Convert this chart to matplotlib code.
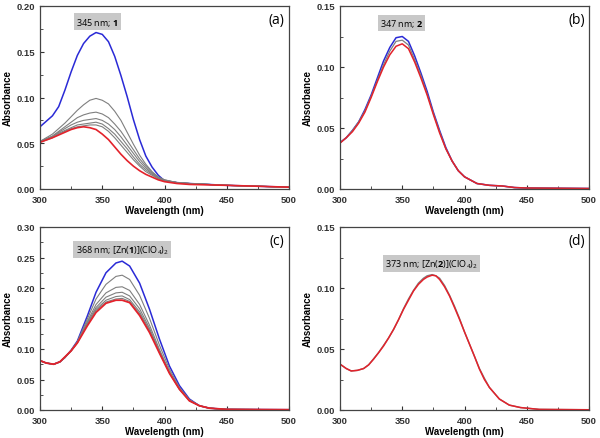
import matplotlib.pyplot as plt
from matplotlib.ticker import MultipleLocator

plt.rcParams['font.family'] = ['Liberation Sans', 'DejaVu Sans']
plt.rcParams['mathtext.fontset'] = 'custom'
plt.rcParams['mathtext.rm'] = 'Open Sans'
plt.rcParams['mathtext.bf'] = 'Open Sans:bold'

# ---- panel (a): ligand 1 ----
wl_a = [300, 310, 315, 320, 325, 330, 335, 340, 345, 350, 355, 360, 365, 370, 375, 380, 385, 390, 395, 400, 410, 420, 450, 500]
a_blue = [0.068, 0.080, 0.090, 0.108, 0.128, 0.146, 0.159, 0.167, 0.171, 0.169, 0.161, 0.145, 0.124, 0.101, 0.076, 0.054, 0.036, 0.024, 0.015, 0.009, 0.007, 0.006, 0.004, 0.002]
a_gray = [
    [0.052, 0.060, 0.066, 0.072, 0.079, 0.086, 0.092, 0.097, 0.099, 0.097, 0.093, 0.085, 0.075, 0.062, 0.049, 0.037, 0.027, 0.019, 0.013, 0.010, 0.007, 0.006, 0.004, 0.002],
    [0.052, 0.058, 0.063, 0.068, 0.073, 0.078, 0.081, 0.083, 0.084, 0.082, 0.078, 0.071, 0.063, 0.053, 0.043, 0.033, 0.025, 0.018, 0.013, 0.010, 0.007, 0.006, 0.004, 0.002],
    [0.052, 0.057, 0.062, 0.066, 0.070, 0.073, 0.075, 0.076, 0.077, 0.075, 0.071, 0.065, 0.057, 0.048, 0.039, 0.030, 0.023, 0.017, 0.012, 0.009, 0.007, 0.006, 0.004, 0.002],
    [0.052, 0.057, 0.061, 0.064, 0.067, 0.070, 0.071, 0.072, 0.073, 0.071, 0.066, 0.060, 0.052, 0.044, 0.035, 0.027, 0.021, 0.016, 0.012, 0.009, 0.007, 0.006, 0.004, 0.002],
    [0.051, 0.056, 0.060, 0.063, 0.066, 0.068, 0.069, 0.070, 0.070, 0.068, 0.063, 0.056, 0.048, 0.040, 0.032, 0.025, 0.019, 0.015, 0.011, 0.009, 0.007, 0.006, 0.004, 0.002],
]
a_red = [0.051, 0.056, 0.059, 0.062, 0.065, 0.067, 0.068, 0.067, 0.065, 0.060, 0.054, 0.046, 0.038, 0.031, 0.025, 0.020, 0.016, 0.013, 0.010, 0.008, 0.006, 0.005, 0.004, 0.002]

# ---- panel (b): ligand 2 ----
wl_b = [300, 305, 310, 315, 320, 325, 330, 335, 340, 345, 350, 355, 360, 365, 370, 375, 380, 385, 390, 395, 400, 410, 420, 430, 440, 450, 500]
b_blue = [0.038, 0.042, 0.048, 0.055, 0.065, 0.077, 0.091, 0.105, 0.116, 0.124, 0.125, 0.121, 0.109, 0.095, 0.080, 0.063, 0.048, 0.034, 0.023, 0.015, 0.010, 0.0045, 0.003, 0.0025, 0.0012, 0.0008, 0.0004]
b_gray = [0.038, 0.042, 0.048, 0.055, 0.064, 0.076, 0.089, 0.102, 0.113, 0.121, 0.122, 0.118, 0.106, 0.093, 0.078, 0.062, 0.047, 0.033, 0.023, 0.015, 0.010, 0.0045, 0.003, 0.0025, 0.0012, 0.0008, 0.0004]
b_red = [0.0376, 0.042, 0.047, 0.054, 0.063, 0.075, 0.088, 0.100, 0.110, 0.117, 0.119, 0.115, 0.104, 0.091, 0.077, 0.061, 0.046, 0.033, 0.023, 0.015, 0.010, 0.0045, 0.003, 0.0025, 0.0012, 0.0008, 0.0004]

# ---- panel (c): [Zn(1)](ClO4)2 ----
wl_c = [300, 305, 311, 316, 320, 325, 330, 338, 345, 353, 361, 366, 372, 380, 388, 396, 404, 412, 420, 428, 436, 450, 500]
c_blue = [0.081, 0.077, 0.075, 0.079, 0.086, 0.098, 0.113, 0.154, 0.193, 0.225, 0.241, 0.244, 0.236, 0.208, 0.165, 0.116, 0.072, 0.040, 0.018, 0.007, 0.003, 0.001, 0.0005]
c_gray = [
    [0.081, 0.077, 0.075, 0.079, 0.086, 0.098, 0.112, 0.149, 0.182, 0.206, 0.219, 0.221, 0.214, 0.188, 0.150, 0.106, 0.067, 0.037, 0.017, 0.007, 0.003, 0.001, 0.0005],
    [0.081, 0.077, 0.075, 0.079, 0.086, 0.097, 0.111, 0.145, 0.173, 0.192, 0.201, 0.202, 0.196, 0.173, 0.139, 0.099, 0.063, 0.035, 0.016, 0.007, 0.003, 0.001, 0.0005],
    [0.081, 0.077, 0.075, 0.079, 0.086, 0.097, 0.111, 0.143, 0.168, 0.185, 0.192, 0.193, 0.187, 0.166, 0.134, 0.096, 0.062, 0.035, 0.016, 0.007, 0.003, 0.001, 0.0005],
    [0.081, 0.077, 0.075, 0.079, 0.086, 0.097, 0.110, 0.141, 0.165, 0.180, 0.186, 0.187, 0.181, 0.161, 0.131, 0.095, 0.061, 0.034, 0.016, 0.007, 0.003, 0.001, 0.0005],
    [0.081, 0.077, 0.075, 0.079, 0.087, 0.097, 0.110, 0.140, 0.163, 0.177, 0.182, 0.183, 0.178, 0.158, 0.129, 0.094, 0.061, 0.034, 0.015, 0.007, 0.003, 0.001, 0.0005],
]
c_red = [0.081, 0.077, 0.075, 0.079, 0.087, 0.097, 0.110, 0.138, 0.160, 0.175, 0.180, 0.180, 0.176, 0.155, 0.127, 0.093, 0.060, 0.034, 0.015, 0.007, 0.003, 0.001, 0.0005]

# ---- panel (d): [Zn(2)](ClO4)2 ----
wl_d = [300, 305, 309, 314, 319, 323, 327, 331, 335, 339, 343, 347, 351, 355, 359, 363, 367, 370, 374, 377, 380, 384, 388, 392, 396, 400, 404, 408, 412, 416, 420, 428, 436, 445, 460, 500]
d_gray = [0.0376, 0.034, 0.032, 0.0325, 0.034, 0.037, 0.042, 0.047, 0.053, 0.059, 0.066, 0.074, 0.083, 0.091, 0.098, 0.104, 0.108, 0.110, 0.111, 0.110, 0.108, 0.102, 0.094, 0.085, 0.075, 0.064, 0.054, 0.044, 0.034, 0.026, 0.0185, 0.009, 0.004, 0.002, 0.0005, 0.0002]
d_red = [0.0376, 0.034, 0.032, 0.0325, 0.034, 0.037, 0.0417, 0.047, 0.0525, 0.059, 0.066, 0.074, 0.0825, 0.090, 0.0975, 0.103, 0.107, 0.109, 0.1105, 0.110, 0.107, 0.101, 0.0934, 0.084, 0.0743, 0.064, 0.054, 0.044, 0.0335, 0.025, 0.0185, 0.009, 0.004, 0.002, 0.0005, 0.0002]

BLUE = '#2a2ad6'
GRAY = '#7f7f7f'
RED = '#e3222b'

fig = plt.figure(figsize=(6, 4.39), dpi=100)
w, h = 249 / 600, 183 / 439
ax_a = fig.add_axes([40 / 600, 1 - 190 / 439, w, h])
ax_b = fig.add_axes([340 / 600, 1 - 190 / 439, w, h])
ax_c = fig.add_axes([40 / 600, 1 - 411 / 439, w, h])
ax_d = fig.add_axes([340 / 600, 1 - 411 / 439, w, h])


def style(ax, ymax, letter):
    ax.set_xlim(300, 500)
    ax.set_ylim(0, ymax)
    ax.xaxis.set_major_locator(MultipleLocator(50))
    ax.xaxis.set_minor_locator(MultipleLocator(25))
    ax.yaxis.set_major_locator(MultipleLocator(0.05))
    ax.yaxis.set_minor_locator(MultipleLocator(0.025))
    ax.yaxis.set_major_formatter(plt.FormatStrFormatter('%.2f'))
    ax.tick_params(which='both', direction='in', top=False, right=False,
                   labelsize=6.8, colors='#333333')
    ax.tick_params(axis='x', pad=4)
    ax.tick_params(axis='y', pad=3.5)
    ax.tick_params(which='major', length=3, width=0.8)
    ax.tick_params(which='minor', length=2, width=0.6)
    for lab in ax.get_xticklabels() + ax.get_yticklabels():
        lab.set_fontweight('bold')
    for sp in ax.spines.values():
        sp.set_color('#444444')
        sp.set_linewidth(0.9)
    ax.set_xlabel('Wavelength (nm)', fontsize=7, fontweight='bold', labelpad=1)
    ax.set_ylabel('Absorbance', fontsize=7, fontweight='bold', labelpad=3)
    ax.text(0.95, 0.925, letter, transform=ax.transAxes, fontsize=10,
            family='Open Sans', ha='center', va='center')


def tag(ax, x, y, s):
    ax.text(x, y, s, fontsize=6.5, family='Open Sans', ha='center', va='center',
            bbox=dict(boxstyle='square,pad=0.25', fc='#c8c8c8', ec='none'))


# (a)
ax_a.plot(wl_a, a_blue, color=BLUE, lw=1.1)
for g in a_gray:
    ax_a.plot(wl_a, g, color=GRAY, lw=0.8)
ax_a.plot(wl_a, a_red, color=RED, lw=1.2)
style(ax_a, 0.20, '(a)')
tag(ax_a, 346, 0.183, r'345 nm; $\mathbf{1}$')

# (b)
ax_b.plot(wl_b, b_blue, color=BLUE, lw=1.1)
ax_b.plot(wl_b, b_gray, color=GRAY, lw=0.9)
ax_b.plot(wl_b, b_red, color=RED, lw=1.1)
style(ax_b, 0.15, '(b)')
tag(ax_b, 349.5, 0.136, r'347 nm; $\mathbf{2}$')

# (c)
ax_c.plot(wl_c, c_blue, color=BLUE, lw=1.1)
for g in c_gray:
    ax_c.plot(wl_c, g, color=GRAY, lw=0.8)
ax_c.plot(wl_c, c_red, color=RED, lw=1.3)
style(ax_c, 0.30, '(c)')
tag(ax_c, 366, 0.263, r'368 nm; [Zn($\mathbf{1}$)](ClO$_4$)$_2$')

# (d)
ax_d.plot(wl_d, d_gray, color=GRAY, lw=1.0)
ax_d.plot(wl_d, d_red, color=RED, lw=1.1)
style(ax_d, 0.15, '(d)')
tag(ax_d, 373.6, 0.120, r'373 nm; [Zn($\mathbf{2}$)](ClO$_4$)$_2$')

fig.savefig('out.png', dpi=100)
